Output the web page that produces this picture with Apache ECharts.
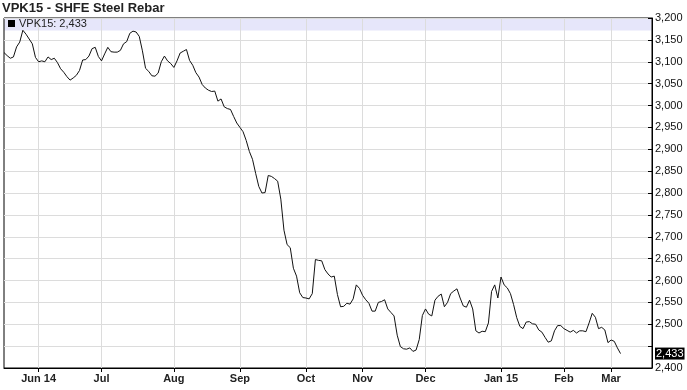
<!DOCTYPE html>
<html>
<head>
<meta charset="utf-8">
<script src="https://cdn.jsdelivr.net/npm/echarts@6/dist/echarts.min.js"></script>
<style>
html,body{margin:0;padding:0;background:#fff;}
#chart{width:687px;height:390px;}
</style>
</head>
<body>
<div id="chart"></div>
<script>
// Daily settlement values (trading days, mid-May 2014 .. early Mar 2015)
const values = [
3121,3114,3108,3111,3134,3145,3172,3163,3152,3141,
3110,3100,3102,3100,3111,3105,3108,3098,3084,3076,
3066,3058,3063,3069,3080,3104,3105,3113,3130,3133,
3112,3102,3118,3133,3123,3122,3122,3126,3141,3146,
3165,3170,3168,3158,3125,3085,3078,3068,3067,3074,
3100,3113,3102,3096,3087,3102,3120,3124,3128,3103,
3092,3075,3065,3048,3040,3035,3032,3033,3010,3015,
2997,2993,2991,2975,2960,2950,2940,2920,2895,2877,
2845,2815,2800,2801,2840,2838,2833,2827,2786,2715,
2682,2675,2628,2610,2572,2561,2560,2558,2570,2648,
2646,2645,2625,2615,2608,2610,2568,2540,2541,2548,
2546,2558,2590,2582,2566,2556,2548,2530,2530,2550,
2552,2556,2535,2527,2519,2475,2449,2444,2443,2446,
2438,2441,2465,2520,2535,2523,2519,2555,2564,2569,
2540,2550,2570,2576,2581,2560,2542,2539,2555,2535,
2485,2480,2484,2483,2503,2575,2590,2560,2608,2590,
2583,2570,2545,2515,2495,2490,2505,2506,2501,2500,
2487,2482,2470,2459,2462,2485,2497,2497,2490,2486,
2482,2486,2480,2485,2485,2483,2503,2525,2516,2490,
2493,2487,2458,2464,2461,2446,2433
];
const seriesName = 'VPK15';
const monthLabels = ['Jun 14','Jul','Aug','Sep','Oct','Nov','Dec','Jan 15','Feb','Mar'];
const monthIdx = [11,31,54,75,96,114,134,158,178,193];
const axisSlots = 207;
const yMin = 2400, yMax = 3200, yStep = 50;

const lastVal = values[values.length - 1];
const fmt = v => Number(v).toLocaleString('en-US');
const categories = Array.from({length: axisSlots}, (_, i) => String(i));
const isMonth = idx => monthIdx.indexOf(idx) >= 0;

const chart = echarts.init(document.getElementById('chart'), null, {renderer: 'canvas'});
chart.setOption({
  animation: false,
  textStyle: {fontFamily: 'Liberation Sans, Arial, sans-serif'},
  title: {
    text: 'VPK15 - SHFE Steel Rebar',
    left: 2, top: 2, padding: 0,
    textStyle: {fontSize: 13, fontWeight: 'bold', color: '#222', fontFamily: 'Liberation Sans, Arial, sans-serif'}
  },
  legend: {
    left: 8, top: 18, padding: 0,
    icon: 'rect', itemWidth: 7, itemHeight: 7, itemGap: 4,
    data: [seriesName],
    formatter: name => name + ': ' + fmt(lastVal),
    textStyle: {fontSize: 11, color: '#222', padding: [1, 0, 0, -1]}
  },
  graphic: [{
    type: 'rect', z: -10,
    shape: {x: 4.5, y: 18.5, width: 647, height: 12},
    style: {fill: '#e6e6fa'}
  }],
  grid: {
    left: 4, right: 35, top: 18, bottom: 22,
    show: true, borderColor: '#000', borderWidth: 1, backgroundColor: 'transparent'
  },
  xAxis: {
    type: 'category',
    boundaryGap: false,
    data: categories,
    axisLine: {show: true, lineStyle: {color: '#000', width: 1}},
    axisTick: {show: true, interval: isMonth, length: 4, lineStyle: {color: '#000'}},
    axisLabel: {
      interval: isMonth,
      formatter: (val, idx) => monthLabels[monthIdx.indexOf(Number(val))] || '',
      fontSize: 11, fontWeight: 'bold', color: '#222', margin: 5
    },
    splitLine: {show: true, interval: isMonth, lineStyle: {color: '#dcdcdc', width: 1}}
  },
  yAxis: {
    type: 'value',
    position: 'right',
    min: yMin, max: yMax, interval: yStep,
    axisLine: {show: true, lineStyle: {color: '#000', width: 1}},
    axisTick: {show: true, inside: true, length: 4, lineStyle: {color: '#000'}},
    axisLabel: {
      fontSize: 11, color: '#111', margin: 3,
      formatter: v => (Math.abs(v - lastVal) < 25 && v !== yMin) ? '' : fmt(v)
    },
    splitLine: {show: true, lineStyle: {color: '#dcdcdc', width: 1}}
  },
  series: [{
    name: seriesName,
    type: 'line',
    data: values,
    symbol: 'none',
    itemStyle: {color: '#000'},
    lineStyle: {color: '#111', width: 1},
    markLine: {
      silent: true,
      symbol: 'none',
      lineStyle: {width: 1, color: 'rgba(0,0,0,0)', type: 'solid'},
      label: {
        show: true,
        position: 'end', distance: 3,
        formatter: () => fmt(lastVal),
        backgroundColor: '#000', color: '#fff', fontSize: 11,
        padding: [1, 1, 0, 1]
      },
      data: [{yAxis: lastVal}]
    }
  }]
});
</script>
</body>
</html>
